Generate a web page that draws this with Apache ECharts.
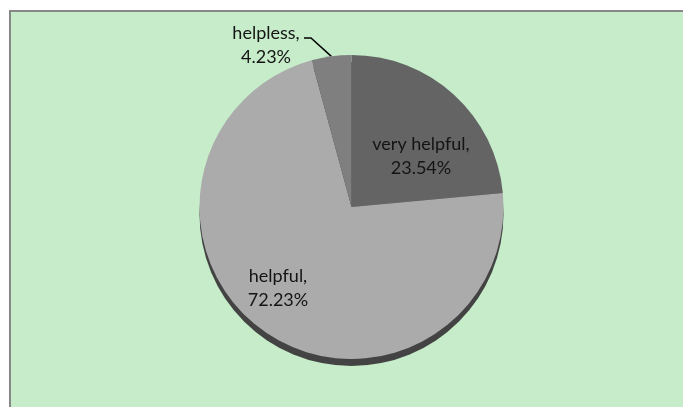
<!DOCTYPE html>
<html>
<head>
<meta charset="utf-8">
<script src="https://cdn.jsdelivr.net/npm/echarts@6/dist/echarts.min.js"></script>
<style>
  html, body { margin: 0; padding: 0; background: #ffffff; overflow: hidden; }
  #frame {
    position: absolute; left: 9px; top: 10px; width: 700px; height: 420px;
    background: #c6ecca; border-left: 2px solid #878787; border-top: 2px solid #878787;
  }
  #chart { position: absolute; left: 0; top: 0; width: 683px; height: 407px; }
</style>
</head>
<body>
<div id="frame"></div>
<div id="chart"></div>
<script>
// Share of responses by how helpful they found it
const categories = ['very helpful', 'helpful', 'helpless'];
const shares = [23.54, 72.23, 4.23];
const sliceColors = ['#646464', '#ababab', '#7f7f7f'];

const chart = echarts.init(document.getElementById('chart'), null, { renderer: 'canvas' });

const CX = 351.5, CY = 207, R = 152;

// label anchor points
const labelSpots = [
  { x: 421, y: 156 },
  { x: 278, y: 288 },
  { x: 266, y: 45 }
];

chart.setOption({
  backgroundColor: 'transparent',
  animation: false,
  series: [
    {
      // dark rim beneath the pie
      type: 'pie',
      silent: true,
      z: 1,
      center: [CX, CY + 7],
      radius: R,
      label: { show: false },
      labelLine: { show: false },
      itemStyle: { color: '#434343' },
      data: [{ name: 'rim', value: 1 }]
    },
    {
      type: 'pie',
      z: 2,
      center: [CX, CY],
      radius: R,
      startAngle: 90,
      clockwise: true,
      itemStyle: { borderWidth: 0 },
      label: {
        show: true,
        position: 'inside',
        fontFamily: 'Lato',
        fontSize: 18,
        lineHeight: 24,
        color: '#141414',
        align: 'center',
        formatter: p => p.name + ',\n' + p.value.toFixed(2) + '%'
      },
      labelLine: { show: false },
      labelLayout: function (params) {
        const spot = labelSpots[params.dataIndex];
        const out = { x: spot.x, y: spot.y, align: 'center', verticalAlign: 'middle' };
        if (params.dataIndex === 2) {
          // leader line from the thin slice's outer arc up-left to its label
          const before = shares[0] + shares[1];
          const total = shares.reduce((a, b) => a + b, 0);
          const mid = (before + shares[2] / 2) / total * 2 * Math.PI;
          const ex = CX + R * Math.sin(mid);
          const ey = CY - R * Math.cos(mid);
          out.labelLinePoints = [[ex, ey], [311, 38], [304, 38]];
        }
        return out;
      },
      data: categories.map((c, i) => ({
        name: c,
        value: shares[i],
        itemStyle: { color: sliceColors[i] },
        label: i === 2 ? { position: 'outside' } : undefined,
        labelLine: i === 2 ? { show: true, length: 8, length2: 8, lineStyle: { color: '#000', width: 1.5 } } : undefined
      }))
    }
  ]
});
</script>
</body>
</html>
